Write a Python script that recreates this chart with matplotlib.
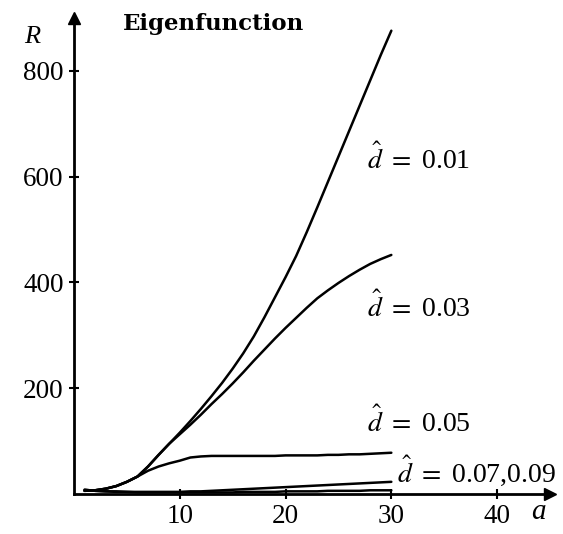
import matplotlib
matplotlib.use("Agg")
import matplotlib.pyplot as plt

plt.rcParams['font.family'] = ['Liberation Serif', 'DejaVu Serif']
plt.rcParams['mathtext.fontset'] = 'stix'

a_vals = list(range(1, 31))
R_d001 = [6, 7, 10, 15, 23, 33, 52, 74, 95, 116, 138, 161, 185, 210, 237,
          266, 298, 334, 372, 410, 450, 495, 542, 590, 638, 686, 734, 782, 830, 876]
R_d003 = [6, 7, 10, 15, 23, 33, 52, 74, 95, 113, 131, 150, 170, 189, 209,
          230, 252, 273, 294, 314, 333, 352, 370, 385, 399, 412, 424, 435, 444, 452]
R_d005 = [6, 7, 10, 15, 23, 33, 44, 52, 58, 63, 69, 71, 72, 72, 72,
          72, 72, 72, 72, 73, 73, 73, 73, 74, 74, 75, 75, 76, 77, 78]
R_d007 = [8, 6, 5, 5, 4, 4, 4, 4, 4, 4, 5, 5, 6, 7, 8,
          9, 10, 11, 12, 13, 14, 15, 16, 17, 18, 19, 20, 21, 22, 23]
R_d009 = [8, 6, 5, 4, 4, 3, 3, 3, 3, 3, 3, 3, 3, 3, 3,
          4, 4, 4, 4, 5, 5, 5, 5, 6, 6, 6, 6, 7, 7, 7]

x_ticks = [10, 20, 30, 40]
y_ticks = [200, 400, 600, 800]
labels = [r"$\hat{d}\ =\ $0.01", r"$\hat{d}\ =\ $0.03", r"$\hat{d}\ =\ $0.05", r"$\hat{d}\ =\ $0.07,0.09"]
label_pos = [(27.7, 634), (27.7, 353), (27.7, 137), (30.5, 43)]

fig = plt.figure(figsize=(5.63, 5.34), dpi=100)
ax = fig.add_axes([74/563, 40/534, 476/563, 476/534])
ax.set_xlim(0, 45)
ax.set_ylim(0, 900)

for R in (R_d001, R_d003, R_d005, R_d007, R_d009):
    ax.plot(a_vals, R, color='black', lw=1.8, solid_capstyle='round', solid_joinstyle='round')

for s in ('top', 'right'):
    ax.spines[s].set_visible(False)
for s in ('left', 'bottom'):
    ax.spines[s].set_linewidth(2.0)

ax.plot(1, 0, marker='>', color='black', markersize=8, transform=ax.transAxes, clip_on=False)
ax.plot(0, 1, marker='^', color='black', markersize=8, transform=ax.transAxes, clip_on=False)

ax.set_xticks(x_ticks)
ax.set_yticks(y_ticks)
ax.tick_params(direction='inout', length=7, width=1.5, labelsize=19.5, pad=4)

for txt, (x, y) in zip(labels, label_pos):
    ax.text(x, y, txt, fontsize=20, ha='left', va='center')

fig.text(123/563, 1 - 30/534, "Eigenfunction", fontsize=16.5, fontweight='bold',
         family='DejaVu Serif', ha='left', va='baseline')
fig.text(32/563, 1 - 37/534, "R", fontsize=19, style='italic', ha='center', va='center')
fig.text(538/563, 1 - 512/534, "a", fontsize=21, style='italic', ha='center', va='center')

fig.savefig("out.png", dpi=100)
